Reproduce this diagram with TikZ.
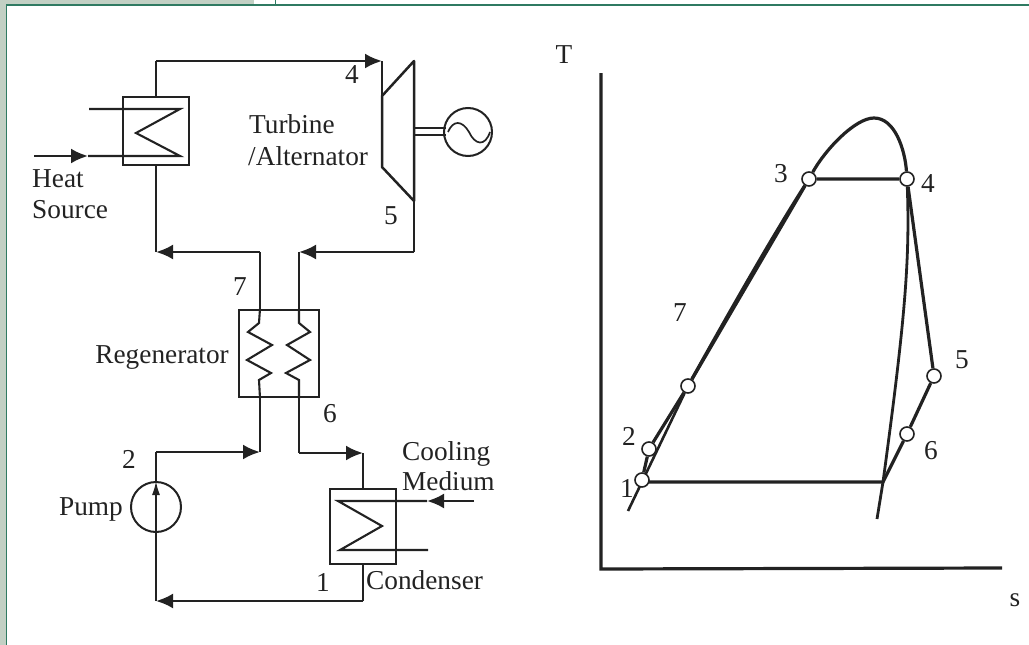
\documentclass[tikz,border=0pt]{standalone}
\usepackage{fontspec}
\setmainfont{Liberation Serif}
\usetikzlibrary{calc,positioning,arrows.meta,backgrounds}
\definecolor{framegreen}{HTML}{2F7A62}
\definecolor{stripgreen}{HTML}{C2D0C4}
\definecolor{inkgray}{HTML}{222222}
\begin{document}
\begin{tikzpicture}[x=1pt,y=-1pt,
box/.style = {rectangle, draw=inkgray, line width=2.5pt, inner sep=0pt},
pumpc/.style = {circle, draw=inkgray, line width=2pt, inner sep=0pt, minimum size=50pt},
state/.style = {circle, draw=inkgray, line width=1.6pt, fill=white, inner sep=0pt, minimum size=14pt},
txt/.style = {inner sep=0pt, text=inkgray, font=\fontsize{27.3}{30}\selectfont},
line/.style = {draw=inkgray, line width=2.5pt, line join=miter},
flow/.style = {line, -{Latex[length=17pt,width=15pt]}},
curve/.style = {draw=inkgray, line width=3.2pt}]

\useasboundingbox (0,0) rectangle (1029,645);

% page frame
\fill[stripgreen] (0,0) rectangle (254,4);
\fill[stripgreen] (0,0) rectangle (6,645);
\draw[framegreen, line width=1.2pt] (6.5,645) -- (6.5,5) -- (1029,5);
\draw[framegreen, line width=0.8pt] (275,0) -- (275,5);

% components
\node [box, minimum width=66pt, minimum height=68pt] (heater) at (156,131) {};
\node [box, minimum width=80pt, minimum height=87pt] (regen) at (279,353.5) {};
\node [box, minimum width=66pt, minimum height=75pt] (cond) at (363,526.5) {};
\node [pumpc] (pump) at (156,507) {};
\node [pumpc, minimum size=48pt] (alt) at (468,132) {};

% turbine
\coordinate (tin) at (382,96);
\coordinate (ttop) at (414,61);
\coordinate (tbot) at (414,201);
\coordinate (tout) at (382,167);
\draw [line, line join=round] (tin) -- (ttop) -- (tbot) -- (tout) -- cycle;

% corners of the pipes
\coordinate (p4) at (382,61);
\coordinate (p7) at (156,252);
\coordinate (p5) at (299,252);
\coordinate (r7) at (260,252);
\coordinate (p2) at (156,452);
\coordinate (p2e) at (260,452);
\coordinate (p6) at (299,453);
\coordinate (p6e) at (363,453);
\coordinate (p1) at (156,601);
\coordinate (c1) at (363,601);
\coordinate (o5) at (414,252);

\begin{scope}[every path/.style=line]
% main loop
\path (heater.north) -- (heater.north |- p4);
\path [flow] (heater.north |- p4) -- (p4);
\path (p4) -- (tin);
\path (tbot) -- (o5);
\path [flow] (o5) -- (p5);
\path (p5) -- (p5 |- regen.north);
\path (r7 |- regen.north) -- (r7);
\path [flow] (r7) -- (p7);
\path (p7) -- (heater.south);
\path (r7 |- regen.south) -- (p2e);
\path (pump.north) -- (p2);
\path [flow] (p2) -- (p2e);
\path (p5 |- regen.south) -- (p6);
\path [flow] (p6) -- (p6e);
\path (p6e) -- (cond.north);
\path (cond.south) -- (c1);
\path [flow] (c1) -- (p1);
\path (p1) -- (pump.south);
\path [flow, line width=1.9pt, -{Latex[length=14pt,width=8pt]}] (pump.south) -- (pump.north);

% coils
\path [flow] (34,156) -- (88,156);
\path [line width=2.1pt] (88,156) -- (180,156) -- (136,133) -- (180,109) -- (89,109);
\path [flow] (474,501) -- (427,501);
\path [line width=2.1pt] (427,501) -- (338,501) -- (382,526) -- (340,550) -- (428,550);
\path [line width=2.1pt] (r7 |- regen.north) -- (259,323) -- (248,332) -- (272,345) -- (247,360) -- (271,373) -- (259,380) -- (r7 |- regen.south);
\path [line width=2.1pt] (p5 |- regen.north) -- (299,323) -- (310,332) -- (287,345) -- (310,360) -- (286,373) -- (299,380) -- (p5 |- regen.south);

% shaft and sine
\path [line width=2pt] (414,128) -- (446,128);
\path [line width=2pt] (414,135) -- (446,135);
\path [line width=1.7pt] (448,132) .. controls (453,120) and (462,120) .. (469,132) .. controls (475,145) and (485,147) .. (490,132);
\end{scope}

% labels of the plant
\node [txt] (n4) at (352,75) {4};
\node [txt] (n5) at (391,216) {5};
\node [txt] (n7) at (240,287) {7};
\node [txt] (n6) at (330,414) {6};
\node [txt] (n2) at (129,459) {2};
\node [txt] (n1) at (323,582) {1};
\node [txt, anchor=base west] (turbine) at (249,133) {Turbine};
\node [txt, anchor=base west] (alternator) at (248,165) {/Alternator};
\node [txt, anchor=base west] (heat) at (32,187) {Heat};
\node [txt, anchor=base west] (source) at (32,218) {Source};
\node [txt, anchor=base east] (regenerator) at (229,363) {Regenerator};
\node [txt, anchor=base east] (pumplabel) at (123,515) {Pump};
\node [txt, anchor=base west] (condenser) at (366,589) {Condenser};
\node [txt, anchor=base west] (cooling) at (402,460) {Cooling};
\node [txt, anchor=base west] (medium) at (402,490) {Medium};

% T-s axes
\coordinate (origin) at (601,569);
\draw [curve] (601,73) -- (origin) -- (1002,568);
\node [txt] (T) at (564,55) {T};
\node [txt] (s) at (1015,600) {s};

% T-s states
\coordinate (b) at (883,482);
\coordinate (leftend) at (628,511);
\coordinate (rightend) at (877,519);
\node [state] (s3) at (809,179) {};
\node [state] (s4) at (907,179) {};
\node [state] (s7) at (688,386) {};
\node [state] (s2) at (649,449) {};
\node [state] (s1) at (642,480) {};
\node [state] (s5) at (934,376) {};
\node [state] (s6) at (907,434) {};

\begin{pgfonlayer}{background}
\draw [curve] (s1) -- (s2) -- (s7) .. controls (725,320) and (770,240) .. (s3);
\draw [curve] (s7) -- (s3);
\draw [curve, line width=2.6pt] (leftend) -- (s7);
\draw [curve] (s3) .. controls (825,150) and (855,118) .. (874,118) .. controls (895,118) and (905,150) .. (s4);
\draw [curve] (s3) -- (s4) -- (s5) -- (s6) -- (b) -- (s1 |- b);
\draw [curve, line width=2.8pt] (s4) .. controls (910,260) and (905,320) .. (b) -- (rightend);
\end{pgfonlayer}

\node [txt] (l3) at (781,174) {3};
\node [txt] (l4) at (928,184) {4};
\node [txt] (l7) at (680,313) {7};
\node [txt] (l5) at (962,360) {5};
\node [txt] (l6) at (931,451) {6};
\node [txt] (l2) at (629,436) {2};
\node [txt] (l1) at (627,488) {1};
\end{tikzpicture}
\end{document}
